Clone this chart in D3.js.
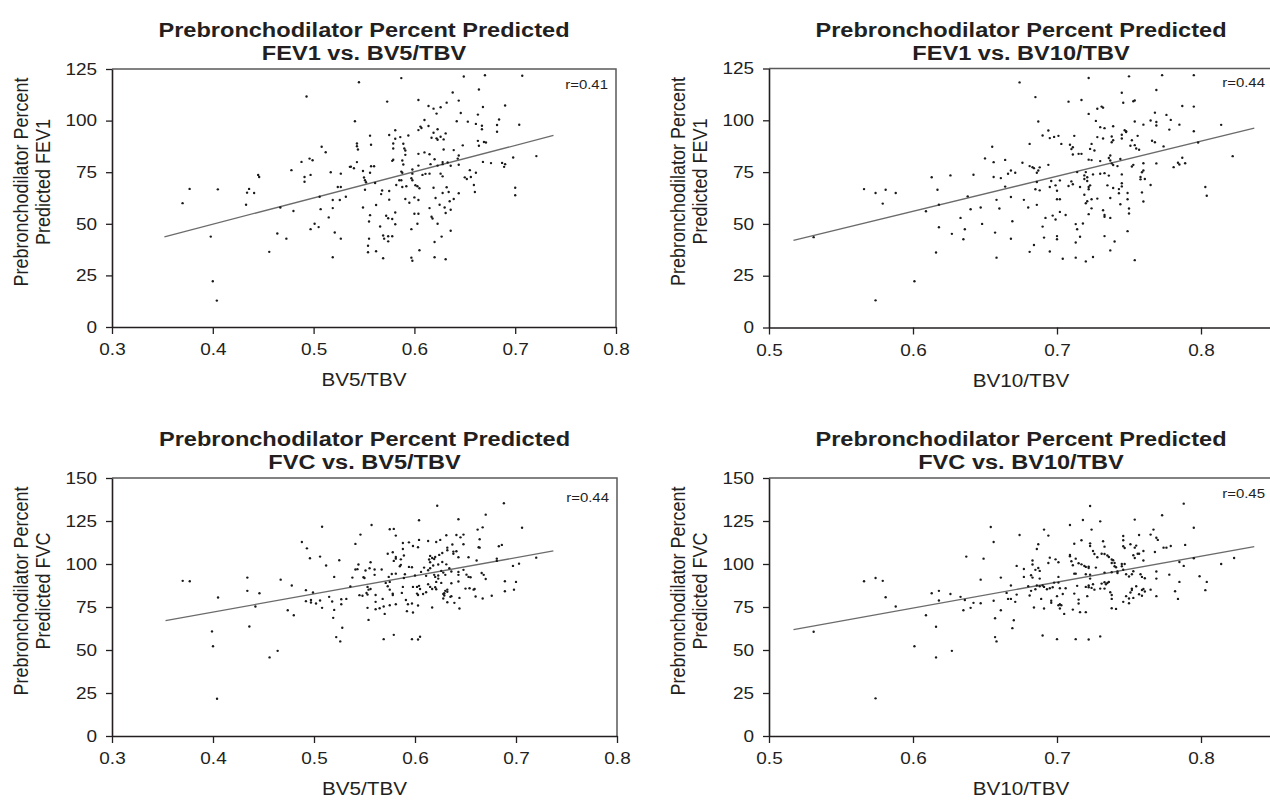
<!DOCTYPE html>
<html>
<head>
<meta charset="utf-8">
<script src="https://cdn.jsdelivr.net/npm/d3@7"></script>
<style>
  body { margin: 0; background: #fff; }
  svg { display: block; font-family: "Liberation Sans", Arial, sans-serif; }
</style>
</head>
<body>
<svg width="1270" height="800"></svg>
<script>
// points, [BV ratio, percent predicted]
const fev1Bv5 = [
  [0.545,118.6],[0.493,111.7],[0.541,99.7],[0.556,92.7],[0.543,88.9],[0.543,87.6],[0.544,86.0],[0.508,87.3],[0.512,84.7],[0.488,80.0],
  [0.496,81.6],[0.499,80.8],[0.543,79.9],[0.536,77.6],[0.537,77.7],[0.540,76.9],[0.549,75.6],[0.478,76.0],[0.445,73.7],[0.446,72.7],
  [0.497,73.7],[0.491,72.7],[0.491,70.4],[0.517,75.0],[0.527,74.3],[0.550,72.4],[0.551,71.1],[0.552,70.1],[0.551,66.5],[0.377,66.9],
  [0.405,66.7],[0.436,66.9],[0.434,65.1],[0.441,64.9],[0.433,59.2],[0.370,60.0],[0.524,67.8],[0.527,67.8],[0.532,63.1],[0.519,61.5],
  [0.526,61.5],[0.506,63.1],[0.519,57.6],[0.507,57.1],[0.467,57.9],[0.480,56.2],[0.549,57.9],[0.515,53.1],[0.555,51.1],[0.501,50.0],
  [0.497,47.4],[0.505,48.4],[0.464,45.3],[0.473,42.8],[0.521,45.8],[0.527,42.8],[0.555,42.8],[0.554,39.4],[0.554,36.2],[0.398,43.8],
  [0.456,36.4],[0.519,33.8],[0.400,22.2],[0.404,12.8],
  [0.587,120.6],[0.649,121.4],[0.670,122.0],[0.707,121.7],[0.664,115.1],[0.638,113.6],[0.573,109.2],[0.604,110.0],[0.644,109.7],[0.632,108.7],
  [0.614,107.1],[0.619,105.8],[0.626,106.5],[0.668,106.6],[0.690,107.3],[0.622,103.4],[0.646,103.7],[0.663,102.9],[0.610,100.3],[0.642,99.7],
  [0.653,99.5],[0.684,100.5],[0.661,98.4],[0.667,97.5],[0.667,95.8],[0.682,97.9],[0.704,98.0],[0.682,94.6],[0.606,97.1],[0.607,96.4],
  [0.604,95.4],[0.614,97.4],[0.623,95.8],[0.619,94.1],[0.631,93.8],[0.617,91.7],[0.622,91.4],[0.623,90.7],[0.626,92.2],[0.629,90.9],
  [0.557,88.3],[0.575,93.0],[0.581,95.3],[0.581,91.2],[0.586,92.0],[0.594,92.8],[0.579,88.9],[0.579,86.5],[0.589,88.8],[0.590,86.5],
  [0.591,85.5],[0.591,83.4],[0.604,83.9],[0.610,84.6],[0.615,83.7],[0.620,81.3],[0.629,86.0],[0.639,85.7],[0.648,88.0],[0.663,90.2],
  [0.664,87.8],[0.669,89.6],[0.671,89.4],[0.644,83.1],[0.643,81.6],[0.579,81.0],[0.578,80.5],[0.588,80.7],[0.589,78.7],[0.604,78.2],
  [0.616,78.9],[0.623,78.2],[0.628,79.9],[0.628,78.9],[0.633,79.7],[0.636,78.1],[0.644,78.6],[0.668,80.0],[0.676,79.4],[0.687,79.5],
  [0.690,78.9],[0.689,77.6],[0.698,82.1],[0.721,82.8],[0.557,77.9],[0.560,77.9],[0.556,74.7],[0.587,75.3],[0.588,74.7],[0.598,76.3],
  [0.598,74.3],[0.608,73.7],[0.611,74.2],[0.615,74.3],[0.626,74.3],[0.628,73.0],[0.650,72.5],[0.652,71.7],[0.656,72.7],[0.661,74.7],
  [0.655,76.0],[0.585,71.1],[0.587,71.1],[0.597,72.1],[0.598,71.1],[0.561,69.8],[0.582,68.8],[0.588,67.8],[0.592,68.2],[0.601,68.7],
  [0.603,68.2],[0.605,67.2],[0.619,67.5],[0.632,67.7],[0.659,68.8],[0.700,67.5],[0.700,63.8],[0.660,65.4],[0.644,64.8],[0.634,65.4],
  [0.568,66.1],[0.575,65.9],[0.567,64.4],[0.628,64.9],[0.621,62.5],[0.639,62.0],[0.635,60.9],[0.575,61.7],[0.591,62.0],[0.595,60.2],
  [0.600,62.8],[0.604,61.5],[0.562,59.1],[0.625,59.2],[0.615,57.6],[0.630,57.9],[0.631,55.2],[0.636,56.8],[0.572,53.9],[0.574,52.7],
  [0.578,52.3],[0.581,55.5],[0.556,54.2],[0.600,54.9],[0.604,54.9],[0.617,53.4],[0.618,52.6],[0.603,50.0],[0.581,49.8],[0.623,50.0],
  [0.566,48.7],[0.597,47.4],[0.636,46.6],[0.569,44.3],[0.574,44.0],[0.578,44.0],[0.570,42.8],[0.574,41.5],[0.627,43.8],[0.620,41.2],
  [0.562,36.7],[0.605,37.2],[0.569,33.3],[0.597,33.6],[0.598,32.1],[0.620,33.8],[0.631,32.8]
];

const fev1Bv10 = [
  [0.531,43.6],[0.566,66.8],[0.574,64.9],[0.581,66.5],[0.588,64.9],[0.579,59.8],[0.574,13.1],[0.601,22.3],[0.609,56.1],[0.613,72.5],
  [0.617,66.5],[0.618,59.3],[0.618,48.4],[0.616,36.2],[0.626,73.4],[0.627,45.2],[0.633,52.9],[0.636,47.4],[0.635,42.6],[0.638,63.3],
  [0.640,57.1],[0.642,73.7],[0.647,57.9],[0.648,50.0],[0.650,81.6],[0.655,87.2],[0.656,79.8],[0.656,72.6],[0.658,61.6],[0.657,45.8],
  [0.658,33.7],
  [0.674,118.3],[0.685,111.2],[0.722,120.4],[0.750,121.2],[0.773,121.8],[0.795,121.8],[0.769,114.6],[0.745,113.3],[0.746,108.5],[0.753,109.2],
  [0.754,109.6],[0.708,109.0],[0.717,109.8],[0.728,105.6],[0.731,106.6],[0.732,106.1],[0.787,106.9],[0.795,106.6],[0.722,103.1],[0.768,103.7],
  [0.776,102.6],[0.687,99.4],[0.727,99.7],[0.730,96.7],[0.733,96.2],[0.739,97.1],[0.754,99.4],[0.760,97.9],[0.765,99.9],[0.769,99.2],
  [0.769,97.5],[0.779,100.2],[0.785,97.9],[0.778,95.5],[0.795,94.7],[0.814,97.8],[0.694,95.1],[0.690,92.7],[0.695,91.4],[0.698,92.0],
  [0.701,92.5],[0.681,88.6],[0.703,88.6],[0.712,92.5],[0.709,88.2],[0.711,87.0],[0.710,86.1],[0.724,88.6],[0.723,86.2],[0.726,85.4],
  [0.728,91.9],[0.732,91.2],[0.738,92.2],[0.739,90.4],[0.738,89.4],[0.745,91.2],[0.747,95.2],[0.748,94.3],[0.748,94.7],[0.745,93.0],
  [0.752,90.4],[0.751,87.7],[0.754,88.0],[0.755,86.4],[0.757,85.8],[0.756,92.5],[0.766,90.1],[0.768,89.4],[0.774,87.4],[0.798,89.3],
  [0.711,83.5],[0.715,83.8],[0.717,83.8],[0.737,83.0],[0.736,81.8],[0.737,80.6],[0.722,81.0],[0.724,80.8],[0.730,80.3],[0.744,81.3],
  [0.738,79.2],[0.739,78.4],[0.742,77.9],[0.753,78.5],[0.752,77.7],[0.769,79.2],[0.787,81.9],[0.789,79.3],[0.784,79.5],[0.785,78.7],
  [0.781,77.4],[0.822,82.7],[0.676,79.5],[0.681,77.9],[0.683,77.4],[0.684,76.9],[0.688,77.3],[0.687,75.8],[0.686,74.7],[0.694,78.5],
  [0.664,80.9],[0.661,72.1],[0.666,74.2],[0.668,75.8],[0.671,74.7],[0.664,68.0],[0.668,63.0],[0.660,57.4],[0.669,51.3],[0.668,42.8],
  [0.677,61.6],[0.680,57.9],[0.686,59.2],[0.686,70.2],[0.685,66.7],[0.688,66.2],[0.696,70.7],[0.699,68.6],[0.702,71.0],[0.695,67.8],
  [0.700,66.0],[0.700,61.9],[0.702,61.9],[0.708,68.3],[0.710,70.5],[0.711,69.1],[0.714,75.0],[0.719,73.4],[0.720,75.0],[0.719,71.7],
  [0.721,72.5],[0.721,70.7],[0.722,67.8],[0.723,68.6],[0.722,66.7],[0.716,67.8],[0.719,64.1],[0.721,60.9],[0.720,60.0],[0.724,61.9],
  [0.728,62.2],[0.724,57.5],[0.722,54.7],[0.725,73.9],[0.730,74.2],[0.733,74.5],[0.736,73.3],[0.735,68.6],[0.739,67.3],[0.743,64.8],
  [0.737,62.5],[0.732,56.6],[0.733,54.3],[0.733,53.4],[0.737,52.9],[0.743,66.8],[0.745,69.6],[0.745,68.1],[0.745,73.9],[0.749,64.9],
  [0.749,61.9],[0.750,57.4],[0.744,59.5],[0.750,55.0],[0.758,72.6],[0.758,71.5],[0.759,74.9],[0.760,75.8],[0.761,71.7],[0.760,79.3],
  [0.765,68.8],[0.759,65.2],[0.760,60.8],[0.803,67.8],[0.804,63.6],[0.692,52.9],[0.697,54.0],[0.699,52.1],[0.702,55.8],[0.706,54.3],
  [0.690,48.7],[0.691,43.4],[0.700,44.1],[0.700,42.6],[0.681,36.5],[0.684,39.8],[0.695,36.7],[0.704,33.2],[0.713,33.7],[0.720,31.9],
  [0.725,34.0],[0.713,49.9],[0.718,50.2],[0.714,47.4],[0.716,43.8],[0.713,41.0],[0.733,44.1],[0.740,41.5],[0.737,37.2],[0.749,46.5],
  [0.754,32.5]
];

const fvcBv5 = [
  [0.370,90.2],[0.377,90.0],[0.405,80.5],[0.399,60.8],[0.400,52.2],[0.404,21.7],[0.434,92.1],[0.434,84.4],[0.446,83.0],[0.442,75.3],
  [0.436,63.7],[0.456,45.7],[0.464,49.5],[0.467,90.9],[0.478,87.5],[0.474,73.1],[0.480,70.2],[0.488,112.8],[0.493,109.1],[0.496,103.3],
  [0.508,121.7],[0.506,104.3],[0.512,99.1],[0.525,102.2],[0.520,92.5],[0.492,84.8],[0.499,83.4],[0.492,78.4],[0.497,79.1],[0.497,77.6],
  [0.502,77.0],[0.506,78.8],[0.508,74.5],[0.515,80.9],[0.518,78.2],[0.520,73.3],[0.527,79.5],[0.532,79.7],[0.527,76.6],[0.519,68.7],
  [0.528,62.9],[0.522,57.5],[0.526,55.0],[0.546,117.1],[0.541,111.7],[0.541,96.8],[0.543,97.0],[0.544,99.7],[0.538,92.1],[0.536,86.9],
  [0.545,81.9],
  [0.622,133.9],[0.688,135.3],[0.670,128.7],[0.557,122.7],[0.604,125.4],[0.643,126.0],[0.575,120.2],[0.579,120.4],[0.581,116.5],[0.706,121.1],
  [0.662,120.0],[0.667,121.3],[0.664,114.4],[0.663,109.7],[0.664,109.5],[0.641,116.9],[0.645,115.5],[0.648,117.1],[0.631,116.7],[0.625,114.0],
  [0.613,113.4],[0.604,114.0],[0.594,112.6],[0.588,112.2],[0.598,110.5],[0.603,109.7],[0.573,106.0],[0.578,106.8],[0.588,108.7],[0.581,104.1],
  [0.581,103.1],[0.586,102.7],[0.579,101.8],[0.589,104.9],[0.621,112.8],[0.637,111.3],[0.632,109.5],[0.638,107.2],[0.632,108.0],[0.627,106.4],
  [0.624,105.3],[0.620,104.1],[0.615,104.7],[0.617,103.5],[0.619,102.9],[0.614,102.6],[0.615,101.0],[0.618,99.1],[0.623,99.7],[0.627,101.2],
  [0.631,99.8],[0.638,106.0],[0.641,107.4],[0.643,103.9],[0.648,111.5],[0.653,103.9],[0.661,102.0],[0.683,110.3],[0.686,111.1],[0.681,103.1],
  [0.681,101.8],[0.720,103.7],[0.703,100.2],[0.697,98.9],[0.666,94.8],[0.668,93.7],[0.670,91.3],[0.556,101.0],[0.555,97.5],[0.551,96.2],
  [0.549,92.3],[0.550,91.9],[0.560,96.8],[0.567,96.8],[0.560,93.7],[0.577,94.2],[0.581,94.4],[0.574,92.5],[0.585,98.7],[0.586,99.5],
  [0.590,94.0],[0.594,98.3],[0.597,98.1],[0.589,91.9],[0.600,93.3],[0.606,95.4],[0.609,97.9],[0.613,96.4],[0.615,97.5],[0.611,93.1],
  [0.619,93.7],[0.620,92.5],[0.623,93.3],[0.623,91.5],[0.626,96.0],[0.628,95.0],[0.630,93.7],[0.634,97.5],[0.636,95.6],[0.643,95.4],
  [0.643,93.7],[0.648,96.6],[0.651,93.8],[0.653,92.5],[0.655,92.3],[0.575,89.6],[0.571,89.0],[0.573,87.1],[0.575,85.1],[0.553,86.7],
  [0.554,85.1],[0.556,85.5],[0.552,83.2],[0.553,82.2],[0.548,81.5],[0.554,67.5],[0.553,74.5],[0.561,82.0],[0.561,78.0],[0.568,79.7],
  [0.565,74.3],[0.561,73.7],[0.569,75.3],[0.570,71.0],[0.575,76.0],[0.581,76.6],[0.578,82.0],[0.578,82.8],[0.587,83.2],[0.588,86.7],
  [0.591,79.1],[0.593,76.6],[0.592,72.6],[0.597,77.0],[0.598,71.8],[0.603,75.9],[0.598,86.7],[0.602,86.7],[0.604,87.3],[0.605,85.5],
  [0.602,82.8],[0.603,82.0],[0.608,82.6],[0.611,83.6],[0.613,88.2],[0.615,86.7],[0.617,85.5],[0.617,74.7],[0.621,89.6],[0.621,85.3],
  [0.620,86.5],[0.626,89.0],[0.628,79.9],[0.628,82.6],[0.629,83.0],[0.630,84.4],[0.629,81.7],[0.632,85.1],[0.632,83.8],[0.632,77.8],
  [0.635,80.9],[0.636,81.3],[0.636,88.8],[0.639,77.4],[0.643,89.8],[0.644,80.3],[0.644,74.1],[0.650,85.7],[0.654,85.9],[0.658,85.1],
  [0.659,85.5],[0.660,81.1],[0.667,79.9],[0.676,81.5],[0.689,90.0],[0.689,84.2],[0.698,85.1],[0.700,89.6],[0.569,56.3],[0.579,58.8],
  [0.597,56.3],[0.603,56.1],[0.605,57.7]
];

const fvcBv10 = [
  [0.531,60.6],[0.566,90.0],[0.574,91.9],[0.579,90.2],[0.581,80.7],[0.588,75.3],[0.574,21.9],[0.601,52.2],[0.609,70.2],[0.613,83.0],
  [0.618,84.4],[0.618,78.8],[0.616,63.5],[0.616,45.7],[0.626,82.6],[0.627,49.5],[0.633,80.9],[0.636,79.1],[0.635,73.1],[0.637,104.3],
  [0.640,74.5],[0.642,77.4],[0.647,90.9],[0.647,77.2],[0.649,103.1],[0.654,121.5],[0.656,112.8],[0.656,78.6],[0.657,68.5],[0.657,57.5],
  [0.658,55.0],
  [0.661,73.1],[0.723,133.7],[0.788,135.1],[0.773,128.3],[0.730,124.8],[0.718,125.6],[0.709,122.7],[0.754,125.8],[0.691,120.0],[0.694,116.5],
  [0.674,116.9],[0.795,121.1],[0.724,120.0],[0.767,120.0],[0.769,115.3],[0.770,114.0],[0.757,116.9],[0.765,117.1],[0.746,116.3],[0.746,113.8],
  [0.717,113.8],[0.723,112.0],[0.723,110.5],[0.712,111.8],[0.732,113.2],[0.733,110.1],[0.687,111.5],[0.686,108.7],[0.746,110.3],[0.747,109.3],
  [0.751,111.5],[0.755,110.7],[0.754,109.5],[0.760,107.6],[0.753,105.1],[0.754,103.5],[0.756,106.0],[0.757,106.0],[0.774,109.5],[0.776,109.5],
  [0.779,110.5],[0.789,111.1],[0.768,107.0],[0.709,105.3],[0.709,104.5],[0.713,103.1],[0.710,101.6],[0.711,99.3],[0.715,100.4],[0.717,99.8],
  [0.695,103.7],[0.699,102.7],[0.701,101.0],[0.694,100.6],[0.683,102.0],[0.683,99.7],[0.685,96.6],[0.687,97.7],[0.688,96.0],[0.677,97.1],
  [0.677,92.5],[0.672,98.9],[0.661,92.1],[0.682,93.5],[0.683,92.1],[0.688,91.5],[0.701,92.5],[0.698,89.2],[0.701,89.2],[0.712,94.4],
  [0.713,94.4],[0.719,98.9],[0.720,98.3],[0.722,97.7],[0.722,98.5],[0.727,97.9],[0.725,107.6],[0.726,105.8],[0.728,103.9],[0.731,106.0],
  [0.733,105.8],[0.735,104.9],[0.736,104.1],[0.738,102.6],[0.739,102.2],[0.738,100.6],[0.740,100.6],[0.740,98.7],[0.741,98.1],[0.745,98.7],
  [0.745,100.0],[0.747,100.0],[0.746,96.7],[0.742,94.8],[0.742,95.6],[0.738,95.2],[0.733,95.0],[0.723,93.8],[0.720,94.0],[0.760,102.0],
  [0.748,94.0],[0.750,92.7],[0.752,94.0],[0.753,95.8],[0.758,94.0],[0.759,92.5],[0.761,91.7],[0.769,91.5],[0.769,95.6],[0.778,93.8],
  [0.785,101.2],[0.788,98.9],[0.795,103.3],[0.814,100.0],[0.823,103.5],[0.799,92.9],[0.804,89.6],[0.803,84.8],[0.785,89.6],[0.782,84.2],
  [0.784,79.7],[0.769,81.3],[0.765,85.1],[0.668,87.5],[0.665,83.2],[0.666,79.7],[0.668,79.7],[0.672,82.2],[0.671,78.0],[0.670,67.3],
  [0.669,62.7],[0.680,87.1],[0.682,84.4],[0.681,81.7],[0.685,85.3],[0.686,87.5],[0.688,87.1],[0.690,87.5],[0.684,74.7],[0.689,79.7],
  [0.691,74.1],[0.691,86.7],[0.693,85.3],[0.695,85.9],[0.697,86.5],[0.696,77.4],[0.696,78.6],[0.700,81.3],[0.701,76.0],[0.702,76.6],
  [0.702,74.1],[0.703,76.0],[0.702,85.9],[0.704,82.6],[0.706,85.9],[0.705,71.0],[0.711,73.5],[0.712,82.8],[0.714,87.3],[0.715,79.3],
  [0.715,77.0],[0.716,72.0],[0.720,72.0],[0.721,81.3],[0.720,86.7],[0.722,86.5],[0.722,87.5],[0.724,86.1],[0.723,91.5],[0.725,88.2],
  [0.726,85.1],[0.730,85.7],[0.731,88.6],[0.733,89.4],[0.734,88.2],[0.735,89.0],[0.733,85.7],[0.736,89.6],[0.737,83.6],[0.738,82.0],
  [0.738,79.7],[0.738,74.3],[0.741,73.9],[0.746,78.0],[0.748,81.3],[0.750,79.9],[0.750,77.2],[0.751,83.4],[0.752,84.9],[0.752,85.7],
  [0.753,80.3],[0.755,87.1],[0.757,82.4],[0.759,81.5],[0.759,84.9],[0.760,85.5],[0.761,84.0],[0.690,58.4],[0.700,56.3],[0.713,56.3],
  [0.722,56.1],[0.730,57.9]
];

// ends of the fitted lines as drawn
const fev1Bv5Fit = [[0.352, 43.7], [0.738, 92.8]];
const fev1Bv10Fit = [[0.517, 42.0], [0.837, 96.2]];
const fvcBv5Fit = [[0.353, 67.1], [0.737, 107.6]];
const fvcBv10Fit = [[0.517, 61.9], [0.837, 110.1]];

const rValues = ['r=0.41', 'r=0.44', 'r=0.44', 'r=0.45'];
const titleTop = 'Prebronchodilator Percent Predicted';
const subTitles = ['FEV1 vs. BV5/TBV', 'FEV1 vs. BV10/TBV', 'FVC vs. BV5/TBV', 'FVC vs. BV10/TBV'];
const yLabelTop = 'Prebronchodilator Percent';
const yLabels = ['Predicted FEV1', 'Predicted FEV1', 'Predicted FVC', 'Predicted FVC'];
const xLabels = ['BV5/TBV', 'BV10/TBV', 'BV5/TBV', 'BV10/TBV'];

const xTicksBv5 = [0.3, 0.4, 0.5, 0.6, 0.7, 0.8];
const xTicksBv10 = [0.5, 0.6, 0.7, 0.8];
const yTicksFev1 = [0, 25, 50, 75, 100, 125];
const yTicksFvc = [0, 25, 50, 75, 100, 125, 150];

const SX = 1.15;          // the source figure is stretched sideways, so is its text
const INK = '#231f20';

const svg = d3.select('svg');

const panels = [
  {pts: fev1Bv5, fit: fev1Bv5Fit, xDom: [0.3, 0.8], xTicks: xTicksBv5, yDom: [0, 125], yTicks: yTicksFev1,
   left: 112, right: 616, top: 69, bottom: 327, rDy: 20},
  {pts: fev1Bv10, fit: fev1Bv10Fit, xDom: [0.5, 0.85], xTicks: xTicksBv10, yDom: [0, 125], yTicks: yTicksFev1,
   left: 769, right: 1273, top: 68.5, bottom: 327.5, rDy: 18.5},
  {pts: fvcBv5, fit: fvcBv5Fit, xDom: [0.3, 0.8], xTicks: xTicksBv5, yDom: [0, 150], yTicks: yTicksFvc,
   left: 112, right: 617, top: 478, bottom: 736, rDy: 24},
  {pts: fvcBv10, fit: fvcBv10Fit, xDom: [0.5, 0.85], xTicks: xTicksBv10, yDom: [0, 150], yTicks: yTicksFvc,
   left: 769, right: 1273, top: 478, bottom: 736, rDy: 20}
];

panels.forEach((p, i) => {
  var x = d3.scaleLinear().domain(p.xDom).range([p.left, p.left + (p.right - p.left)]);
  var y = d3.scaleLinear().domain(p.yDom).range([p.bottom, p.top]);
  var g = svg.append('g');
  var cx = (p.left + p.right) / 2;

  // top and right edges of the box
  g.append('path')
    .attr('d', `M${p.left},${p.top}H${p.right}V${p.bottom}`)
    .attr('fill', 'none')
    .attr('stroke', '#5a5a5a')
    .attr('stroke-width', 1.5);

  var xAxis = d3.axisBottom(x)
    .tickValues(p.xTicks)
    .tickFormat(d3.format('.1f'))
    .tickSizeInner(7)
    .tickSizeOuter(0)
    .tickPadding(9.5);
  var yAxis = d3.axisLeft(y)
    .tickValues(p.yTicks)
    .tickSizeInner(6)
    .tickSizeOuter(0)
    .tickPadding(7);

  var gx = g.append('g').attr('transform', `translate(0,${p.bottom})`).call(xAxis);
  var gy = g.append('g').attr('transform', `translate(${p.left},0)`).call(yAxis);

  [gx, gy].forEach(a => {
    a.select('.domain').attr('stroke', INK).attr('stroke-width', 1.6);
    a.selectAll('.tick line').attr('stroke', INK).attr('stroke-width', 1.3);
    a.selectAll('.tick text')
      .attr('fill', INK)
      .attr('font-size', 16.5)
      .attr('font-family', '"Liberation Sans", Arial, sans-serif')
      .attr('transform', `scale(${SX},1)`);
  });

  // fitted line
  g.append('path')
    .datum(p.fit)
    .attr('d', d3.line().x(d => x(d[0])).y(d => y(d[1])))
    .attr('fill', 'none')
    .attr('stroke', '#6b6b6b')
    .attr('stroke-width', 1.3);

  // points
  g.append('g').selectAll('circle')
    .data(p.pts).enter()
    .append('circle')
    .attr('cx', d => x(d[0]))
    .attr('cy', d => y(d[1]))
    .attr('r', 1.2)
    .attr('fill', '#1a1a1a');

  // r label
  g.append('text')
    .attr('transform', `translate(${p.right - 8},${p.top + p.rDy}) scale(${SX},1)`)
    .attr('text-anchor', 'end')
    .attr('font-size', 13)
    .attr('fill', INK)
    .text(rValues[i]);

  // title, two lines
  [titleTop, subTitles[i]].forEach((t, k) => {
    g.append('text')
      .attr('transform', `translate(${cx},${p.top - 32 + k * 23}) scale(${SX},1)`)
      .attr('text-anchor', 'middle')
      .attr('font-size', 20.5)
      .attr('font-weight', 'bold')
      .attr('fill', INK)
      .text(t);
  });

  // y label, two rotated lines
  [yLabelTop, yLabels[i]].forEach((t, k) => {
    g.append('text')
      .attr('transform', `translate(${p.left - 84 + k * 22},${p.top + 113}) scale(${SX},1) rotate(-90)`)
      .attr('text-anchor', 'middle')
      .attr('font-size', 18)
      .attr('fill', INK)
      .text(t);
  });

  // x label
  g.append('text')
    .attr('transform', `translate(${cx},${p.bottom + 59}) scale(${SX},1)`)
    .attr('text-anchor', 'middle')
    .attr('font-size', 18)
    .attr('fill', INK)
    .text(xLabels[i]);
});
</script>
</body>
</html>
